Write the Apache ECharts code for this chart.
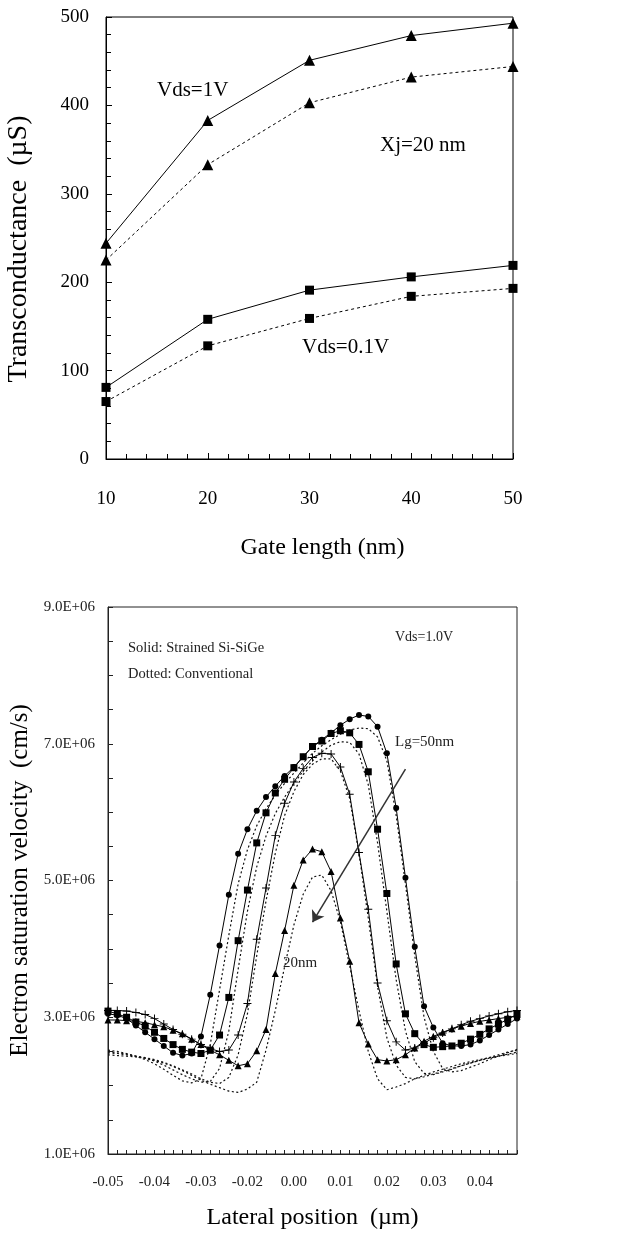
<!DOCTYPE html>
<html>
<head>
<meta charset="utf-8">
<script src="https://cdn.jsdelivr.net/npm/echarts@6/dist/echarts.min.js"></script>
<style>
html,body{margin:0;padding:0;background:#fff;}
#chart{width:633px;height:1237px;}
</style>
</head>
<body>
<div id="chart"></div>
<script>
// ---------- Top chart: transconductance vs gate length ----------
const gateLength = [10, 20, 30, 40, 50];
const gmStrained1V = [244, 383, 451, 479, 493];
const gmConv1V = [225, 333, 403, 432, 444];
const gmStrained01V = [81, 158, 191, 206, 219];
const gmConv01V = [65, 128, 159, 184, 193];
const gmTicks = [0, 100, 200, 300, 400, 500];

// ---------- Bottom chart: electron saturation velocity (x1E6 cm/s) ----------
const lateralPos = [-0.05, -0.0477, -0.0455, -0.0432, -0.0409, -0.0386, -0.0364, -0.0341, -0.0318, -0.0295,
  -0.0273, -0.025, -0.0227, -0.0205, -0.0182, -0.0159, -0.0136, -0.0114, -0.0091, -0.0068,
  -0.0045, -0.0023, 0, 0.0023, 0.0045, 0.0068, 0.0091, 0.0114, 0.0136, 0.0159,
  0.0182, 0.0205, 0.0227, 0.025, 0.0273, 0.0295, 0.0318, 0.0341, 0.0364, 0.0386,
  0.0409, 0.0432, 0.0455, 0.0477, 0.05];
const velStrained50 = [3.05, 3.03, 2.98, 2.88, 2.78, 2.68, 2.58, 2.48, 2.44, 2.47,
  2.72, 3.33, 4.05, 4.79, 5.39, 5.75, 6.02, 6.22, 6.38, 6.53,
  6.66, 6.81, 6.96, 7.06, 7.16, 7.27, 7.36, 7.42, 7.40, 7.25,
  6.86, 6.06, 5.04, 4.03, 3.16, 2.85, 2.62, 2.58, 2.58, 2.60,
  2.66, 2.74, 2.82, 2.90, 2.98];
const velStrained40 = [3.09, 3.05, 3.00, 2.93, 2.87, 2.78, 2.69, 2.60, 2.53, 2.49,
  2.47, 2.52, 2.74, 3.29, 4.12, 4.86, 5.55, 5.99, 6.28, 6.48,
  6.65, 6.81, 6.96, 7.04, 7.15, 7.19, 7.16, 6.99, 6.59, 5.75,
  4.81, 3.78, 3.05, 2.76, 2.60, 2.56, 2.57, 2.58, 2.62, 2.68,
  2.75, 2.83, 2.90, 2.97, 3.04];
const velStrained30 = [3.10, 3.10, 3.09, 3.07, 3.04, 2.98, 2.90, 2.82, 2.75, 2.68,
  2.60, 2.54, 2.50, 2.52, 2.74, 3.20, 4.14, 4.89, 5.66, 6.13,
  6.44, 6.64, 6.80, 6.86, 6.85, 6.66, 6.26, 5.41, 4.58, 3.50,
  2.95, 2.64, 2.52, 2.55, 2.62, 2.70, 2.77, 2.83, 2.89, 2.94,
  2.98, 3.02, 3.05, 3.08, 3.10];
const velStrained20 = [2.96, 2.96, 2.95, 2.94, 2.92, 2.89, 2.86, 2.81, 2.76, 2.68,
  2.60, 2.52, 2.45, 2.37, 2.29, 2.32, 2.51, 2.82, 3.64, 4.27,
  4.93, 5.30, 5.46, 5.42, 5.13, 4.45, 3.82, 2.92, 2.61, 2.38,
  2.36, 2.38, 2.45, 2.55, 2.65, 2.72, 2.78, 2.83, 2.87, 2.91,
  2.94, 2.96, 2.98, 3.00, 3.02];
const velConv50 = [2.52, 2.50, 2.47, 2.43, 2.38, 2.32, 2.24, 2.15, 2.07, 2.04,
  2.10, 2.60, 3.40, 4.20, 4.95, 5.45, 5.80, 6.05, 6.25, 6.42,
  6.57, 6.72, 6.86, 6.97, 7.06, 7.14, 7.20, 7.23, 7.22, 7.10,
  6.75, 5.95, 4.95, 3.90, 3.00, 2.50, 2.25, 2.20, 2.22, 2.27,
  2.32, 2.38, 2.43, 2.48, 2.53];
const velConv40 = [2.50, 2.48, 2.46, 2.43, 2.40, 2.36, 2.30, 2.23, 2.16, 2.10,
  2.05, 2.06, 2.25, 2.80, 3.70, 4.55, 5.20, 5.65, 5.98, 6.22,
  6.42, 6.60, 6.75, 6.88, 6.98, 7.03, 7.02, 6.85, 6.40, 5.55,
  4.55, 3.55, 2.80, 2.35, 2.18, 2.16, 2.20, 2.24, 2.29, 2.33,
  2.37, 2.41, 2.45, 2.49, 2.52];
const velConv30 = [2.48, 2.47, 2.45, 2.43, 2.41, 2.38, 2.34, 2.29, 2.23, 2.17,
  2.10, 2.05, 2.03, 2.12, 2.45, 3.05, 3.90, 4.70, 5.40, 5.95,
  6.30, 6.55, 6.70, 6.78, 6.78, 6.60, 6.20, 5.40, 4.45, 3.45,
  2.70, 2.30, 2.12, 2.10, 2.13, 2.17, 2.21, 2.25, 2.29, 2.33,
  2.37, 2.40, 2.43, 2.46, 2.49];
const velConv20 = [2.45, 2.44, 2.43, 2.42, 2.40, 2.37, 2.33, 2.28, 2.22, 2.15,
  2.08, 2.02, 1.97, 1.92, 1.90, 1.95, 2.05, 2.52, 3.10, 3.74,
  4.35, 4.80, 5.05, 5.08, 4.85, 4.40, 3.75, 3.10, 2.50, 2.10,
  1.94, 1.98, 2.03, 2.10, 2.15, 2.20, 2.24, 2.28, 2.32, 2.35,
  2.38, 2.41, 2.43, 2.45, 2.47];
const velTicks = [1, 3, 5, 7, 9];
// arrow annotation (category index, value)
const arrowFrom = [32, 6.63];
const arrowTo = [22, 4.39];

const SERIF = 'Liberation Serif';
const pairs = (xs, ys) => xs.map((x, i) => [x, ys[i]]);
const plusPath = 'path://M4.4,0H5.6V10H4.4ZM0,4.4H10V5.6H0Z';

const solidTop = (name, data, sym, size) => ({
  name, type: 'line', xAxisIndex: 0, yAxisIndex: 0, data: pairs(gateLength, data),
  symbol: sym, symbolSize: size, showSymbol: true,
  lineStyle: {color: '#000', width: 1, type: 'solid'},
  itemStyle: {color: '#000'}, animation: false, z: 3
});
const dashTop = (name, data, sym, size) => ({
  name, type: 'line', xAxisIndex: 0, yAxisIndex: 0, data: pairs(gateLength, data),
  symbol: sym, symbolSize: size, showSymbol: true,
  lineStyle: {color: '#000', width: 1, type: [3, 3]},
  itemStyle: {color: '#000'}, animation: false, z: 3
});
const solidBot = (name, data, sym, size) => ({
  name, type: 'line', xAxisIndex: 1, yAxisIndex: 1, data: data,
  symbol: sym, symbolSize: size, showSymbol: true, showAllSymbol: true,
  lineStyle: {color: '#000', width: 1, type: 'solid'},
  itemStyle: {color: '#000'}, animation: false, z: 3
});
const dotBot = (name, data) => ({
  name, type: 'line', xAxisIndex: 1, yAxisIndex: 1, data: data,
  symbol: 'none', showSymbol: false,
  lineStyle: {color: '#111', width: 1.2, type: [2, 2.5]},
  animation: false, z: 2
});

const chart = echarts.init(document.getElementById('chart'), null, {renderer: 'canvas'});
const tickFont = {fontFamily: SERIF, color: '#000'};

const option = {
  backgroundColor: '#fff',
  animation: false,
  grid: [
    {left: 106, right: 120, top: 17, bottom: 778, show: true, borderColor: '#000', borderWidth: 1,
      backgroundColor: 'transparent', containLabel: false, outerBoundsMode: 'none'},
    {left: 108, right: 116, top: 607, bottom: 83, show: true, borderColor: '#222', borderWidth: 1,
      backgroundColor: 'transparent', containLabel: false, outerBoundsMode: 'none'}
  ],
  xAxis: [
    {
      type: 'value', gridIndex: 0, min: 10, max: 50, interval: 10,
      name: 'Gate length (nm)', nameLocation: 'middle', nameGap: 77,
      nameTextStyle: {fontFamily: SERIF, fontSize: 24, color: '#000', padding: [0, 0, 0, 26]},
      axisLine: {show: true, lineStyle: {color: '#000', width: 1}},
      axisTick: {show: true, inside: true, length: 6, lineStyle: {color: '#000'}},
      minorTick: {show: true, splitNumber: 5, length: 5, lineStyle: {color: '#000'}},
      axisLabel: Object.assign({fontSize: 19, margin: 31}, tickFont),
      splitLine: {show: false}
    },
    {
      type: 'category', gridIndex: 1, data: lateralPos, boundaryGap: false,
      name: 'Lateral position  (\u00b5m)', nameLocation: 'middle', nameGap: 52,
      nameTextStyle: {fontFamily: SERIF, fontSize: 24, color: '#000'},
      axisLine: {show: true, lineStyle: {color: '#222', width: 1}},
      axisTick: {show: true, inside: true, length: 4, interval: 0, lineStyle: {color: '#222'}},
      axisLabel: Object.assign({fontSize: 15, margin: 21, interval: 4,
        formatter: v => { const n = Number(v); return (Math.abs(n) < 0.005 ? 0 : n).toFixed(2); }}, tickFont, {color: '#222'}),
      splitLine: {show: false}
    }
  ],
  yAxis: [
    {
      type: 'value', gridIndex: 0, min: gmTicks[0], max: gmTicks[gmTicks.length - 1], interval: 100,
      name: 'Transconductance  (\u00b5S)', nameLocation: 'middle', nameGap: 73,
      nameTextStyle: {fontFamily: SERIF, fontSize: 28, color: '#000', padding: [0, 22, 0, 0]},
      axisLine: {show: true, lineStyle: {color: '#000', width: 1}},
      axisTick: {show: true, inside: true, length: 6, lineStyle: {color: '#000'}},
      minorTick: {show: true, splitNumber: 5, length: 5, lineStyle: {color: '#000'}},
      axisLabel: Object.assign({fontSize: 19, margin: 17}, tickFont),
      splitLine: {show: false}
    },
    {
      type: 'value', gridIndex: 1, min: velTicks[0], max: velTicks[velTicks.length - 1], interval: 2,
      name: 'Electron saturation velocity  (cm/s)', nameLocation: 'middle', nameGap: 75,
      nameTextStyle: {fontFamily: SERIF, fontSize: 25, color: '#000'},
      axisLine: {show: true, lineStyle: {color: '#222', width: 1}},
      axisTick: {show: true, inside: true, length: 5, lineStyle: {color: '#222'}},
      minorTick: {show: true, splitNumber: 4, length: 5, lineStyle: {color: '#222'}},
      axisLabel: Object.assign({fontSize: 15, margin: 13, formatter: v => v.toFixed(1) + 'E+06'}, tickFont, {color: '#222'}),
      splitLine: {show: false}
    }
  ],
  graphic: [
    {type: 'text', left: 157, top: 80, style: {text: 'Vds=1V', font: '21px "Liberation Serif"', fill: '#000'}},
    {type: 'text', left: 380, top: 135, style: {text: 'Xj=20 nm', font: '21px "Liberation Serif"', fill: '#000'}},
    {type: 'text', left: 302, top: 337, style: {text: 'Vds=0.1V', font: '21px "Liberation Serif"', fill: '#000'}},
    {type: 'text', left: 128, top: 641, style: {text: 'Solid: Strained Si-SiGe', font: '14.5px "Liberation Serif"', fill: '#222'}},
    {type: 'text', left: 128, top: 667, style: {text: 'Dotted: Conventional', font: '14.5px "Liberation Serif"', fill: '#222'}},
    {type: 'text', left: 395, top: 630, style: {text: 'Vds=1.0V', font: '14px "Liberation Serif"', fill: '#222'}},
    {type: 'text', left: 395, top: 735, style: {text: 'Lg=50nm', font: '15px "Liberation Serif"', fill: '#222'}},
    {type: 'text', left: 283, top: 956, style: {text: '20nm', font: '15px "Liberation Serif"', fill: '#222'}}
  ],
  series: [
    solidTop('Strained Vds=1V', gmStrained1V, 'triangle', 11),
    dashTop('Conventional Vds=1V', gmConv1V, 'triangle', 11),
    solidTop('Strained Vds=0.1V', gmStrained01V, 'rect', 9),
    dashTop('Conventional Vds=0.1V', gmConv01V, 'rect', 9),
    dotBot('Conv Lg=50nm', velConv50),
    dotBot('Conv Lg=40nm', velConv40),
    dotBot('Conv Lg=30nm', velConv30),
    dotBot('Conv Lg=20nm', velConv20),
    Object.assign(solidBot('Strained Lg=50nm', velStrained50, 'circle', 6), {
      markLine: {
        silent: true, animation: false, symbol: ['none', 'arrow'], symbolSize: 11,
        lineStyle: {color: '#333', width: 1.5, type: 'solid'}, label: {show: false},
        data: [[{coord: arrowFrom}, {coord: arrowTo}]]
      }
    }),
    solidBot('Strained Lg=40nm', velStrained40, 'rect', 7),
    solidBot('Strained Lg=30nm', velStrained30, plusPath, 8),
    solidBot('Strained Lg=20nm', velStrained20, 'triangle', 7)
  ]
};
chart.setOption(option);
</script>
</body>
</html>
